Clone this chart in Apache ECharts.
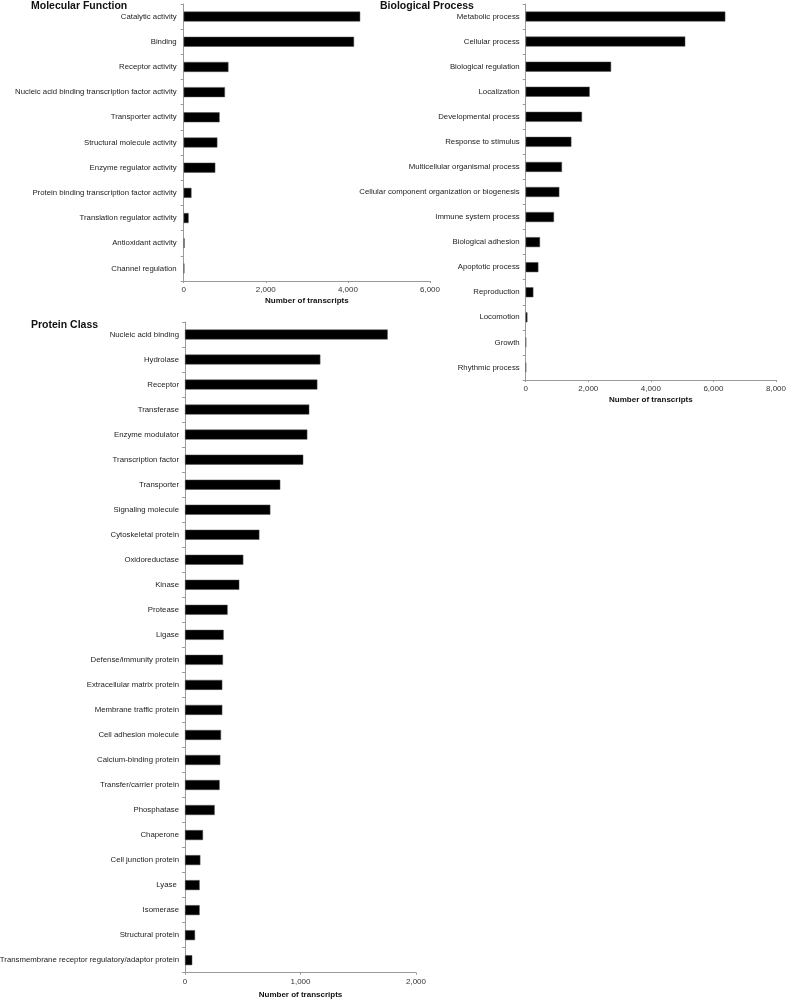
<!DOCTYPE html>
<html>
<head>
<meta charset="utf-8">
<script src="https://cdn.jsdelivr.net/npm/echarts@6/dist/echarts.min.js"></script>
<style>
html,body{margin:0;padding:0;background:#fff;}
#chart{width:787px;height:1000px;}
</style>
</head>
<body>
<div id="chart"></div>
<script>
// ---- Data ----
const mfCategories = ["Catalytic activity","Binding","Receptor activity","Nucleic acid binding transcription factor activity","Transporter activity","Structural molecule activity","Enzyme regulator activity","Protein binding transcription factor activity","Translation regulator activity","Antioxidant activity","Channel regulation"];
const mfValues = [4300,4150,1090,1005,875,820,770,190,120,20,15];

const bpCategories = ["Metabolic process","Cellular process","Biological regulation","Localization","Developmental process","Response to stimulus","Multicellular organismal process","Cellular component organization or biogenesis","Immune system process","Biological adhesion","Apoptotic process","Reproduction","Locomotion","Growth","Rhythmic process"];
const bpValues = [6380,5100,2730,2045,1800,1460,1160,1075,905,458,405,245,55,12,10];

const pcCategories = ["Nucleic acid binding","Hydrolase","Receptor","Transferase","Enzyme modulator","Transcription factor","Transporter","Signaling molecule","Cytoskeletal protein","Oxidoreductase","Kinase","Protease","Ligase","Defense/immunity protein","Extracellular matrix protein","Membrane traffic protein","Cell adhesion molecule","Calcium-binding protein","Transfer/carrier protein","Phosphatase","Chaperone","Cell junction protein","Lyase ","Isomerase","Structural protein","Transmembrane receptor regulatory/adaptor protein"];
const pcValues = [1755,1172,1146,1076,1059,1024,825,739,644,505,470,369,335,329,323,323,312,306,300,257,156,133,127,127,87,63];

const xMax = [6000, 8000, 2000];
const xInterval = [2000, 2000, 1000];
const titles = ["Molecular Function","Biological Process","Protein Class"];
const axisName = "Number of transcripts";

// ---- Chart ----
const FONT = "'Liberation Sans', Arial, Helvetica, sans-serif";
const chart = echarts.init(document.getElementById('chart'), null, {renderer:'canvas'});

const grids = [
  {left:183.7, top:4, width:246.3, height:277},
  {left:525.7, top:4, width:250.3, height:376},
  {left:185, top:322, width:231, height:650.7}
];
const labelMargins = [7, 6, 6];
const cats = [mfCategories, bpCategories, pcCategories];
const vals = [mfValues, bpValues, pcValues];

const axisColor = '#9a9a9a';
const fmt = v => Number(v).toLocaleString('en-US');
const titleStyle = {fontFamily:FONT,fontSize:10.5,fontWeight:'bold',color:'#111'};

const option = {
  backgroundColor:'#fff',
  animation:false,
  title:[
    {text:titles[0], left:31, top:0.5, padding:0, textStyle:titleStyle},
    {text:titles[1], left:380, top:0.5, padding:0, textStyle:titleStyle},
    {text:titles[2], left:31, top:319.5, padding:0, textStyle:titleStyle}
  ],
  grid: grids.map(g => Object.assign({containLabel:false, outerBoundsMode:'none'}, g)),
  xAxis: grids.map((g,i) => ({
    type:'value', gridIndex:i, min:0, max:xMax[i], interval:xInterval[i],
    name:axisName, nameLocation:'middle', nameGap:16,
    nameTextStyle:{fontFamily:FONT,fontSize:8,fontWeight:'bold',color:'#111'},
    axisLine:{show:true,lineStyle:{color:axisColor,width:1}},
    axisTick:{show:true,length:2,lineStyle:{color:axisColor}},
    axisLabel:{fontFamily:FONT,fontSize:8,color:'#333',margin:5,formatter:fmt},
    splitLine:{show:false}
  })),
  yAxis: grids.map((g,i) => ({
    type:'category', gridIndex:i, data:cats[i], inverse:true,
    axisLine:{show:true,lineStyle:{color:axisColor,width:1}},
    axisTick:{show:true,length:3,lineStyle:{color:axisColor}},
    axisLabel:{fontFamily:FONT,fontSize:7.8,color:'#222',margin:labelMargins[i],interval:0},
    splitLine:{show:false}
  })),
  series: grids.map((g,i) => ({
    type:'bar', xAxisIndex:i, yAxisIndex:i, data:vals[i], barWidth:10,
    itemStyle:{color:'#000', borderColor:'#555', borderWidth:0.5},
    silent:true
  }))
};
chart.setOption(option);
</script>
</body>
</html>
